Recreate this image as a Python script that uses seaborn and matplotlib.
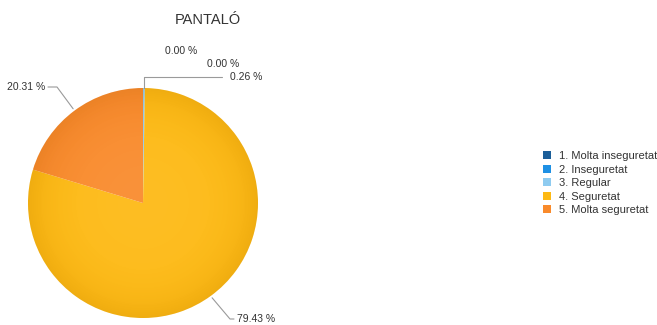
import numpy as np
import matplotlib
matplotlib.use("Agg")
import matplotlib.pyplot as plt
from matplotlib.patches import Patch, Circle
import seaborn as sns

# Survey answers for "PANTALÓ" (percent of responses)
categories = ["1. Molta inseguretat", "2. Inseguretat", "3. Regular",
              "4. Seguretat", "5. Molta seguretat"]
values = [0.00, 0.00, 0.26, 79.43, 20.31]
palette = ["#1b5e99", "#1e90e4", "#8ecbf0", "#fdb913", "#f98a2b"]

sns.set_theme(style="white")
plt.rcParams["font.family"] = ["Liberation Sans", "DejaVu Sans"]

W, H = 657, 325
fig = plt.figure(figsize=(W / 100, H / 100), dpi=100)

# pie geometry in pixels (centre and radius)
cx, cy, R = 143, 203, 115
ax = fig.add_axes([(cx - R) / W, (H - cy - R) / H, 2 * R / W, 2 * R / H])

wedges, _ = ax.pie(values, colors=palette, startangle=90, counterclock=False,
                   radius=1, wedgeprops=dict(linewidth=0))
ax.set_xlim(-1, 1)
ax.set_ylim(-1, 1)
ax.set_aspect("equal")
ax.axis("off")

# soft radial shading on the pie: a light centre and a slightly darker rim
n = 400
g = np.linspace(-1, 1, n)
xx, yy = np.meshgrid(g, g)
rr = np.sqrt(xx ** 2 + yy ** 2)
clip = Circle((0, 0), 1, transform=ax.transData)
for rgb, alpha in [((1, 1, 1), 0.07 * np.clip(1 - rr ** 2, 0, 1)),
                   ((0.45, 0.25, 0), 0.10 * np.clip(rr, 0, 1) ** 6)]:
    layer = np.zeros((n, n, 4))
    layer[..., :3] = rgb
    layer[..., 3] = alpha
    im = ax.imshow(layer, extent=(-1, 1, -1, 1), origin="lower", zorder=3,
                   interpolation="bilinear")
    im.set_clip_path(clip)


def px(x, y):
    """pixel position -> data coordinates of the pie axes"""
    return (x - cx) / R, (cy - y) / R


def mid_angle(w):
    return np.deg2rad((w.theta1 + w.theta2) / 2)


text_kw = dict(fontsize=7.5, color="#333333", va="center", clip_on=False)
line_kw = dict(color="#9a9a9a", lw=0.8, clip_on=False)
labels = [f"{v:.2f} %" for v in values]

# first two (empty) categories: text only
ax.text(*px(165, 51), labels[0], ha="left", **text_kw)
ax.text(*px(207, 64), labels[1], ha="left", **text_kw)

# 3. Regular: connector goes straight up from the sliver, then right
a = mid_angle(wedges[2])
x0, y0 = np.cos(a), np.sin(a)
ex, ey = px(cx, 77)
ax.plot([x0, x0, px(222, 77)[0]], [y0, ey, ey], **line_kw)
ax.text(*px(230, 77), labels[2], ha="left", **text_kw)

# 4. Seguretat: lower right
a = mid_angle(wedges[3])
x0, y0 = 1.02 * np.cos(a), 1.02 * np.sin(a)
e1 = px(230, 319)
e2 = px(234, 319)
ax.plot([x0, e1[0], e2[0]], [y0, e1[1], e2[1]], **line_kw)
ax.text(*px(237, 319), labels[3], ha="left", **text_kw)

# 5. Molta seguretat: upper left
a = mid_angle(wedges[4])
x0, y0 = 1.02 * np.cos(a), 1.02 * np.sin(a)
e1 = px(57, 87)
e2 = px(48, 87)
ax.plot([x0, e1[0], e2[0]], [y0, e1[1], e2[1]], **line_kw)
ax.text(*px(45, 87), labels[4], ha="right", **text_kw)

fig.text(208 / W, 1 - 20 / H, "PANTALÓ", ha="center", va="center",
         fontsize=10.5, color="#333333")

handles = [Patch(facecolor=c, edgecolor="none", label=l)
           for c, l in zip(palette, categories)]
fig.legend(handles=handles, loc="upper left",
           bbox_to_anchor=(543 / W, 1 - 151 / H), frameon=False,
           fontsize=8, handlelength=0.7, handleheight=0.7,
           handletextpad=0.7, labelspacing=0.32, borderpad=0,
           borderaxespad=0, labelcolor="#333333")

fig.savefig("out.png", dpi=100)
